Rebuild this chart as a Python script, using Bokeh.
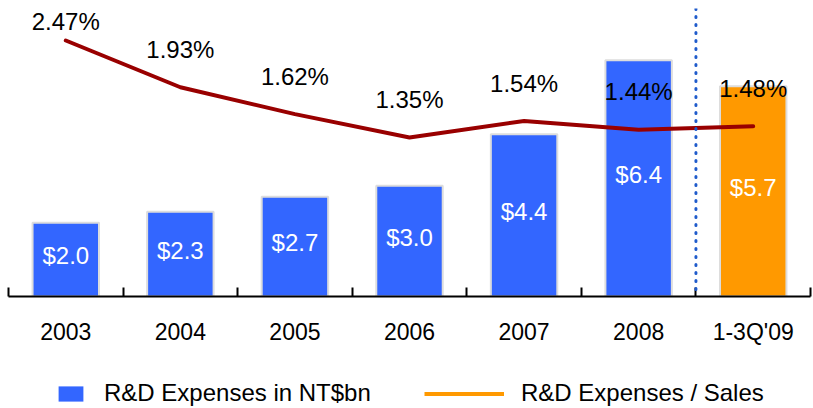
from bokeh.plotting import figure
from bokeh.layouts import column
from bokeh.models import (Range1d, LinearAxis, FixedTicker, Span, Legend,
                          LegendItem, ColumnDataSource)
from bokeh.embed import file_html
from bokeh.resources import INLINE
from bokeh.core.properties import value
import numpy as np

# ---- data ----
categories = ["2003", "2004", "2005", "2006", "2007", "2008", "1-3Q'09"]
rd_expenses = [2.0, 2.3, 2.7, 3.0, 4.4, 6.4, 5.7]          # NT$bn
rd_to_sales = [2.47, 1.93, 1.62, 1.35, 1.54, 1.44, 1.48]   # %

# ---- styling ----
FONT = "Liberation Sans"
BLUE = "#3366FF"
ORANGE = "#FF9900"
RED = "#990000"
W = 813
MAIN_H = 360
LEG_H = 48
FRAME_TOP = 8
FRAME_H = 288

n = len(categories)
xs = list(range(n))
bar_colors = [BLUE] * (n - 1) + [ORANGE]
bar_labels = [f"${v:.1f}" for v in rd_expenses]
pct_labels = [f"{v:.2f}%" for v in rd_to_sales]

p = figure(width=W, height=MAIN_H, x_range=Range1d(-0.5, n - 0.5),
           y_range=Range1d(0, 7.805), output_backend="svg",
           toolbar_location=None, x_axis_location=None, y_axis_location=None,
           min_border_left=8, min_border_right=3, min_border_top=FRAME_TOP,
           min_border_bottom=MAIN_H - FRAME_TOP - FRAME_H)
p.outline_line_color = None
p.grid.grid_line_color = None
pct_lo, pct_hi = -0.486, 2.8395
p.extra_y_ranges = {"pct": Range1d(pct_lo, pct_hi)}
px_per_pct = FRAME_H / (pct_hi - pct_lo)

src = ColumnDataSource(dict(x=xs, v=rd_expenses, half=[v / 2 for v in rd_expenses],
                            color=bar_colors, lab=bar_labels))
p.vbar(x="x", top="v", width=0.58, fill_color="color", line_color="#DDDDDD",
       line_width=2, source=src)
p.text(x="x", y="half", text="lab", source=src, text_color="white",
       text_font=value(FONT), text_font_size="24px", text_align="center",
       text_baseline="middle", y_offset=-4)

p.line(xs, rd_to_sales, y_range_name="pct", line_color=RED, line_width=4,
       line_join="round", line_cap="round")
label_top = 2.47 + 19 / px_per_pct
pct_label_y = list(np.minimum(np.array(rd_to_sales) + 38 / px_per_pct, label_top))
p.text(xs, pct_label_y, text=pct_labels, y_range_name="pct", text_color="black",
       text_font=value(FONT), text_font_size="24px", text_align="center",
       text_baseline="middle")

p.add_layout(Span(location=n - 1.5, dimension="height", line_color="#1F5BCB",
                  line_width=3, line_dash="1 7", line_cap="round"))

ax = LinearAxis(ticker=FixedTicker(ticks=xs, minor_ticks=[i - 0.5 for i in range(n + 1)]),
                major_label_overrides={i: c for i, c in enumerate(categories)})
ax.axis_line_color = "black"
ax.axis_line_width = 2
ax.major_tick_line_color = None
ax.major_tick_in = 0
ax.major_tick_out = 0
ax.minor_tick_line_color = "black"
ax.minor_tick_line_width = 2
ax.minor_tick_in = 9
ax.minor_tick_out = 0
ax.major_label_standoff = 22
ax.major_label_text_font = FONT
ax.major_label_text_font_size = "23px"
ax.major_label_text_color = "black"
p.add_layout(ax, "below")

# ---- legend strip ----
lg = figure(width=W, height=LEG_H, x_range=Range1d(0, 1), y_range=Range1d(0, 1),
            output_backend="svg", toolbar_location=None,
            x_axis_location=None, y_axis_location=None,
            min_border_left=0, min_border_right=0, min_border_top=0,
            min_border_bottom=0)
lg.outline_line_color = None
lg.grid.grid_line_color = None
# proxy renderers (NaN data, nothing drawn) only feed the legend glyphs
nan = float("nan")
r_bar = lg.vbar(x=[nan], top=[nan], width=0.1, fill_color=BLUE, line_color=None)
r_line = lg.line(x=[nan, nan], y=[nan, nan], line_color=ORANGE, line_width=4)

def make_legend(label, r, x, gw, gh, standoff):
    return Legend(items=[LegendItem(label=label, renderers=[r])],
                  location=(x, 1), glyph_width=gw, glyph_height=gh,
                  label_standoff=standoff, padding=0, margin=0, spacing=0,
                  border_line_color=None, background_fill_alpha=0,
                  label_text_font=FONT, label_text_font_size="24px",
                  label_text_color="black")

lg.add_layout(make_legend("R&D Expenses in NT$bn", r_bar, 47, 31, 19, 18))
lg.add_layout(make_legend("R&D Expenses / Sales", r_line, 416, 80, 19, 17))

layout = column(p, lg, spacing=0)
open("out.html", "w").write(file_html(layout, INLINE))
